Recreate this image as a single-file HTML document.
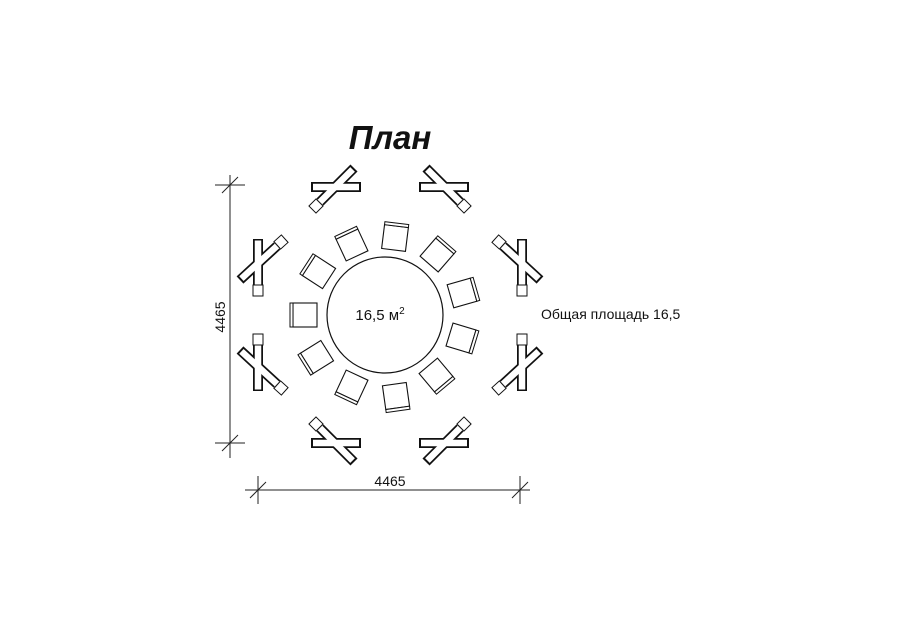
<!DOCTYPE html>
<html><head><meta charset="utf-8"><style>
html,body{margin:0;padding:0;background:#fff;}
svg{display:block;}
text{font-family:"Liberation Sans",sans-serif;fill:#111;}
</style></head><body>
<svg width="900" height="636" viewBox="0 0 900 636" xmlns="http://www.w3.org/2000/svg">
<defs>
<g id="chair">
<rect x="-12" y="-12" width="24" height="24" fill="#fff" stroke="#111" stroke-width="1.1"/>
<rect x="-12" y="-15" width="24" height="3" fill="#fff" stroke="#111" stroke-width="1"/>
</g>
<g id="top">
<g stroke="#111" stroke-width="10" stroke-linecap="butt" fill="none">
<line x1="-25" y1="0" x2="25" y2="0"/>
<line x1="18" y1="-19" x2="-16" y2="15"/>
</g>
<g stroke="#fff" stroke-width="6.5" stroke-linecap="butt" fill="none">
<line x1="-23" y1="0" x2="23" y2="0"/>
<line x1="16.6" y1="-17.6" x2="-16" y2="15"/>
</g>
<g transform="translate(-20,19) rotate(-45)"><rect x="-5" y="-5" width="10" height="10" fill="#fff" stroke="#111" stroke-width="1"/></g>
</g>
<g id="side">
<g stroke="#111" stroke-width="10" stroke-linecap="butt" fill="none">
<line x1="-4" y1="-23" x2="-4" y2="23"/>
<line x1="-22" y1="18" x2="15" y2="-16"/>
</g>
<g stroke="#fff" stroke-width="6.5" stroke-linecap="butt" fill="none">
<line x1="-4" y1="-21.5" x2="-4" y2="23"/>
<line x1="-20.6" y1="16.6" x2="15" y2="-16"/>
</g>
<rect x="-9" y="23" width="10" height="11" fill="#fff" stroke="#111" stroke-width="1"/>
<g transform="translate(19,-20) rotate(-42)"><rect x="-5" y="-5" width="10" height="10" fill="#fff" stroke="#111" stroke-width="1"/></g>
</g>
</defs>

<text x="390" y="149" font-size="33" font-weight="bold" font-style="italic" text-anchor="middle">План</text>

<circle cx="385" cy="315" r="58" fill="none" stroke="#111" stroke-width="1.2"/>
<text x="380" y="320" font-size="15" text-anchor="middle">16,5 м<tspan font-size="10" dy="-6">2</tspan></text>

<use href="#chair" transform="translate(395,238) rotate(7)"/>
<use href="#chair" transform="translate(352,245) rotate(-25)"/>
<use href="#chair" transform="translate(437,255) rotate(41)"/>
<use href="#chair" transform="translate(319,272) rotate(-57)"/>
<use href="#chair" transform="translate(462,293) rotate(74)"/>
<use href="#chair" transform="translate(305,315) rotate(270)"/>
<use href="#chair" transform="translate(461,338) rotate(107)"/>
<use href="#chair" transform="translate(317,357) rotate(238)"/>
<use href="#chair" transform="translate(436,375) rotate(140)"/>
<use href="#chair" transform="translate(352,386) rotate(205)"/>
<use href="#chair" transform="translate(396,396) rotate(172)"/>

<use href="#top" transform="translate(336,187)"/>
<use href="#top" transform="translate(444,187) scale(-1,1)"/>
<use href="#top" transform="translate(336,443) scale(1,-1)"/>
<use href="#top" transform="translate(444,443) scale(-1,-1)"/>
<use href="#side" transform="translate(262,262)"/>
<use href="#side" transform="translate(518,262) scale(-1,1)"/>
<use href="#side" transform="translate(262,368) scale(1,-1)"/>
<use href="#side" transform="translate(518,368) scale(-1,-1)"/>

<g stroke="#222" stroke-width="1">
<line x1="230" y1="175" x2="230" y2="458"/>
<line x1="215" y1="185" x2="245" y2="185"/>
<line x1="215" y1="443" x2="245" y2="443"/>
<line x1="222" y1="193" x2="238" y2="177"/>
<line x1="222" y1="451" x2="238" y2="435"/>
<line x1="245" y1="490" x2="530" y2="490"/>
<line x1="258" y1="476" x2="258" y2="504"/>
<line x1="520" y1="476" x2="520" y2="504"/>
<line x1="250" y1="498" x2="266" y2="482"/>
<line x1="512" y1="498" x2="528" y2="482"/>
</g>
<text x="390" y="486" font-size="14" text-anchor="middle">4465</text>
<text transform="translate(225,317) rotate(-90)" font-size="14" text-anchor="middle">4465</text>
<text x="541" y="319" font-size="14">Общая площадь 16,5</text>
</svg>
</body></html>
